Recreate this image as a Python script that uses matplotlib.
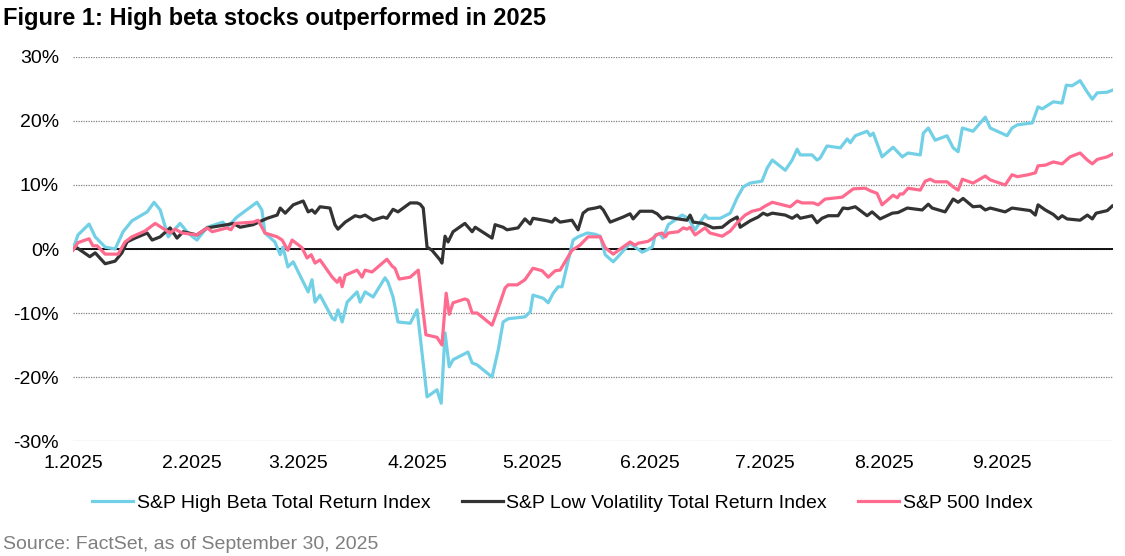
import numpy as np
import pandas as pd
import matplotlib
matplotlib.use('Agg')
import matplotlib.pyplot as plt
import matplotlib.dates as mdates
import matplotlib.ticker as ticker

plt.rcParams['font.family'] = ['Liberation Sans', 'DejaVu Sans']

# Cumulative return (%) since 2024-12-31.
# *_day = days since 2025-01-01
hb_day = [0.0, 1.3, 4.2, 5.8, 8.4, 11.0, 13.1, 15.4, 19.4, 21.2, 22.8, 24.9, 28.0, 30.1, 32.4, 35.1,
          39.2, 40.3, 42.9, 48.1, 49.4, 50.2, 52.8, 54.2, 54.9, 56.2, 57.6, 61.5, 62.5, 63.3, 64.6,
          67.8, 68.5, 69.3, 70.4, 71.7, 74.3, 75.1, 76.4, 78.5, 81.6, 82.4, 83.7, 85.0, 88.2, 90.0,
          92.6, 95.2, 96.3, 97.3, 98.4, 99.4, 103.3, 104.4, 105.7, 109.6, 111.2, 112.5, 113.8, 118.2,
          119.6, 120.3, 123.0, 124.3, 125.6, 126.9, 127.9, 130.8, 132.1, 134.5, 136.6, 137.9, 139.2,
          141.3, 143.6, 145.7, 147.0, 148.9, 151.5, 152.3, 153.6, 154.3, 155.7, 159.3, 160.9, 162.7,
          165.3, 166.1, 169.3, 171.9, 173.7, 175.3, 177.1, 180.2, 181.6, 182.9, 186.3, 188.1, 189.4,
          190.2, 193.3, 194.6, 195.4, 197.2, 200.7, 202.5, 203.3, 204.6, 207.7, 208.5, 209.3, 211.6,
          214.5, 216.9, 218.4, 221.6, 222.4, 223.7, 225.5, 228.6, 230.2, 231.5, 232.6, 235.4, 238.6,
          239.9, 244.3, 245.6, 247.0, 250.9, 252.4, 253.5, 256.4, 258.7, 259.8, 261.3, 263.4, 265.3,
          266.6, 267.9, 270.5, 271.8]
hb_val = [0.0, 2.2, 3.9, 1.9, 0.3, 0.0, 2.7, 4.4, 5.8, 7.3, 6.1, 1.9, 4.0, 2.5, 1.4, 3.4,
          4.2, 3.4, 5.0, 7.3, 6.1, 2.5, 1.1, -0.9, 0.3, -2.8, -2.0, -6.7, -4.8, -8.3, -7.2,
          -10.8, -11.1, -9.5, -11.4, -8.3, -6.7, -8.3, -6.7, -7.5, -4.5, -5.2, -7.5, -11.4, -11.6, -9.5,
          -23.1, -22.0, -24.1, -13.1, -18.4, -17.3, -16.1, -17.8, -18.1, -20.0, -15.8, -11.4, -10.9, -10.6,
          -9.8, -7.2, -7.7, -8.4, -6.9, -5.9, -5.9, 1.4, 1.9, 2.5, 2.3, 2.0, -0.9,
          -2.0, -0.5, 0.9, 0.3, -0.5, 0.3, 2.2, 2.3, 1.7, 3.8, 5.3, 4.8, 3.0,
          5.3, 4.8, 4.8, 5.6, 8.0, 9.7, 10.3, 10.6, 12.7, 13.9, 12.3, 13.9, 15.6,
          14.7, 14.7, 13.9, 14.2, 16.1, 15.8, 17.2, 16.6, 17.7, 18.4, 17.7, 18.1, 14.4,
          15.9, 14.4, 15.0, 14.7, 18.1, 18.9, 17.0, 17.7, 15.8, 15.2, 18.9, 18.4, 20.6,
          18.9, 17.7, 18.9, 19.4, 19.7, 22.2, 21.9, 23.0, 22.8, 25.6, 25.5, 26.3, 24.5,
          23.4, 24.4, 24.5, 24.8]

lv_day = [0.0, 1.0, 4.4, 5.8, 8.4, 11.0, 12.8, 14.1, 16.2, 19.4, 20.7, 22.8, 25.4, 27.2, 28.8, 32.4,
          35.1, 40.3, 41.9, 43.7, 47.1, 50.8, 53.4, 54.2, 55.5, 57.6, 60.2, 61.5, 62.5, 63.3, 64.6,
          67.2, 68.5, 69.3, 71.2, 73.8, 75.1, 76.4, 78.5, 81.1, 82.1, 83.7, 85.0, 88.2, 90.0, 90.8,
          91.6, 92.6, 93.9, 96.0, 96.5, 97.3, 98.1, 99.4, 102.5, 104.4, 105.2, 109.6, 110.4, 112.5,
          113.5, 116.4, 118.2, 119.6, 120.3, 124.0, 125.3, 126.1, 127.4, 130.5, 132.1, 133.4, 134.7,
          136.6, 137.9, 138.7, 140.5, 143.9, 145.7, 146.5, 148.3, 151.5, 152.8, 154.1, 155.4, 158.3,
          160.6, 161.4, 162.2, 164.8, 167.4, 169.8, 171.9, 173.7, 174.5, 177.1, 179.2, 180.5, 181.6,
          182.9, 186.3, 188.1, 189.4, 190.2, 193.3, 194.6, 195.9, 197.5, 200.1, 201.4, 202.7, 204.6,
          207.7, 209.0, 211.1, 214.3, 215.8, 218.2, 222.1, 223.7, 224.7, 228.1, 230.2, 231.5, 232.8,
          235.4, 237.3, 238.6, 239.9, 243.8, 245.6, 250.4, 251.7, 252.4, 254.3, 256.4, 257.7, 258.7,
          260.0, 263.4, 265.3, 266.6, 267.6, 270.5, 271.8]
lv_val = [0.0, 0.2, -1.2, -0.6, -2.3, -1.9, -0.6, 1.1, 1.7, 2.5, 1.4, 1.9, 3.3, 1.7, 2.7, 2.2,
          3.3, 3.8, 4.0, 3.4, 3.8, 4.8, 5.3, 6.4, 5.6, 6.9, 7.5, 5.8, 6.1, 5.6, 6.6,
          6.4, 3.8, 3.1, 4.2, 5.2, 5.0, 5.3, 4.5, 5.0, 4.8, 6.2, 5.8, 7.2, 7.2, 7.0,
          6.4, 0.3, -0.2, -1.7, -2.2, 2.0, 1.1, 2.7, 4.0, 2.7, 3.4, 1.7, 3.8, 3.4,
          3.0, 3.3, 4.7, 3.9, 4.8, 4.4, 4.2, 4.8, 4.2, 4.5, 3.0, 5.6, 6.2,
          6.4, 6.6, 6.1, 4.2, 5.0, 5.5, 4.7, 5.9, 5.9, 5.5, 4.7, 5.0, 4.7,
          4.5, 5.3, 4.2, 4.0, 3.3, 3.4, 4.4, 5.0, 3.4, 4.4, 5.0, 5.6, 5.3,
          5.6, 5.3, 4.8, 5.3, 4.8, 5.2, 4.1, 4.8, 5.2, 5.2, 6.4, 6.3, 6.6,
          5.2, 5.8, 4.7, 5.6, 5.7, 6.4, 6.1, 7.0, 6.4, 5.8, 7.8, 7.3, 7.9,
          6.6, 6.7, 6.1, 6.4, 5.8, 6.4, 6.0, 5.3, 6.9, 6.1, 5.4, 4.7, 5.2,
          4.7, 4.5, 5.3, 4.7, 5.6, 6.0, 6.7]

sp_day = [0.0, 1.3, 4.2, 5.2, 6.3, 8.4, 11.8, 13.6, 15.4, 18.8, 21.5, 25.4, 26.7, 28.5, 32.4, 35.1,
          36.4, 40.3, 41.3, 42.4, 47.1, 48.4, 50.2, 53.4, 54.7, 56.2, 57.3, 59.9, 61.2, 62.3, 63.3,
          64.6, 67.8, 69.1, 69.8, 70.4, 71.2, 74.3, 75.6, 76.4, 78.2, 82.1, 83.5, 84.2, 85.3, 88.2,
          90.3, 92.3, 95.2, 96.5, 97.6, 98.4, 99.4, 102.5, 103.3, 104.4, 105.7, 109.6, 110.9, 113.0,
          113.8, 116.2, 118.2, 120.3, 122.7, 124.3, 126.1, 127.4, 130.5, 132.6, 134.7, 137.9, 139.2,
          141.3, 143.6, 145.7, 147.0, 147.8, 150.4, 151.7, 152.8, 154.1, 154.9, 155.7, 158.3, 159.6,
          160.6, 161.4, 162.7, 165.3, 166.6, 169.8, 171.9, 173.7, 175.8, 177.6, 179.7, 181.0, 182.9,
          187.6, 189.4, 190.7, 193.6, 194.9, 196.7, 201.2, 202.5, 204.1, 207.2, 208.5, 210.3, 211.6,
          214.5, 215.6, 216.3, 217.1, 218.4, 221.6, 222.9, 224.2, 225.5, 228.6, 230.2, 231.5, 232.6,
          235.4, 238.6, 239.9, 243.8, 245.6, 247.0, 249.8, 251.7, 252.4, 254.3, 256.4, 258.7, 260.8,
          263.4, 265.3, 266.6, 267.9, 270.5, 271.8]
sp_val = [-0.2, 1.0, 1.6, 0.5, 0.5, -0.8, -0.8, 1.1, 1.9, 2.8, 4.0, 2.5, 3.1, 2.5, 2.2, 3.3,
          2.7, 3.3, 3.0, 4.0, 4.2, 4.5, 2.5, 1.9, 1.4, -0.2, 1.4, 0.2, -1.4, -0.9, -2.2,
          -1.7, -4.4, -5.2, -4.5, -5.9, -4.1, -3.3, -4.4, -3.3, -3.6, -1.6, -2.7, -3.0, -4.7, -4.4,
          -3.3, -13.4, -13.8, -15.0, -6.9, -10.2, -8.4, -7.8, -8.0, -10.0, -10.0, -11.9, -9.8, -6.1,
          -5.6, -5.6, -4.8, -3.0, -3.4, -4.4, -3.4, -3.3, -0.2, 0.6, 1.9, 1.9, 0.2,
          -0.8, 0.2, 1.1, 0.6, 0.9, 1.2, 1.7, 2.3, 2.5, 1.9, 2.5, 2.7, 3.3,
          3.1, 3.4, 2.2, 3.3, 2.5, 2.0, 2.8, 4.1, 5.3, 5.9, 6.2, 6.7, 7.3,
          6.6, 7.5, 7.2, 7.2, 6.9, 7.8, 8.1, 8.7, 9.4, 9.5, 9.1, 8.7, 6.9,
          8.4, 8.0, 8.6, 8.6, 9.5, 9.2, 10.6, 10.9, 10.5, 10.5, 9.7, 9.2, 10.9,
          10.3, 11.4, 10.8, 10.0, 11.6, 11.3, 11.6, 11.9, 13.0, 13.1, 13.6, 13.3, 14.4,
          15.0, 13.9, 13.3, 14.0, 14.4, 14.8]

series_names = ['S&P High Beta Total Return Index',
                'S&P Low Volatility Total Return Index',
                'S&P 500 Index']
series_colors = ['#72D0E6', '#333333', '#FF6B8E']
y_ticks = [-30, -20, -10, 0, 10, 20, 30]

base = pd.Timestamp('2025-01-01')


def to_dates(days):
    return base + pd.to_timedelta(np.array(days), unit='D')


fig = plt.figure(figsize=(11.25, 5.56), dpi=100)
ax = fig.add_axes([0.0649, 0.2068, 0.9244, 0.6907])

for days, vals, name, color in zip([hb_day, lv_day, sp_day], [hb_val, lv_val, sp_val],
                                   series_names, series_colors):
    ax.plot(to_dates(days), vals, color=color, lw=2.3, label=name)

ax.axhline(0, color='black', lw=1.3, zorder=1.5)

ax.set_ylim(-30, 30)
ax.set_yticks(y_ticks)
ax.yaxis.set_major_formatter(ticker.FuncFormatter(lambda v, _: f'{v:.0f}%'))
ax.set_xlim(base, pd.Timestamp('2025-09-30'))
ax.xaxis.set_major_locator(mdates.MonthLocator())
ax.xaxis.set_major_formatter(ticker.FuncFormatter(
    lambda v, _: f'{mdates.num2date(v).month}.{mdates.num2date(v).year}'))

ax.yaxis.grid(True, linestyle=(0, (1, 1)), color='#808080', lw=0.9)
ax.set_axisbelow(True)
for s in ax.spines.values():
    s.set_visible(False)
ax.tick_params(axis='both', length=0, labelsize=14, colors='black')
ax.tick_params(axis='y', pad=10)
ax.tick_params(axis='x', pad=10)

fig.text(0.003, 0.966, 'Figure 1: High beta stocks outperformed in 2025', fontsize=17,
         fontweight='bold', ha='left', va='center')
fig.text(0.003, 0.021, 'Source: FactSet, as of September 30, 2025', fontsize=14,
         color='#7f7f7f', ha='left', va='center')

fig.legend(loc='center', bbox_to_anchor=(0.5, 0.095), ncol=3, frameon=False, fontsize=14,
           handlelength=2.1, handletextpad=0.2, columnspacing=1.6)

fig.savefig('out.png', dpi=100)
